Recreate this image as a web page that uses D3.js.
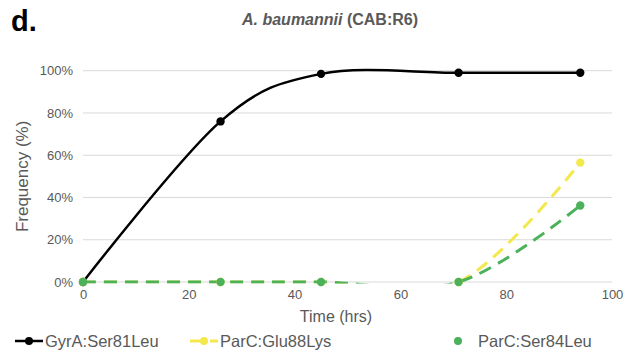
<!DOCTYPE html>
<html>
<head>
<meta charset="utf-8">
<script src="https://cdn.jsdelivr.net/npm/d3@7"></script>
<style>
  html, body { margin: 0; padding: 0; background: #fff; }
  svg { display: block; font-family: "Liberation Sans", Arial, sans-serif; }
</style>
</head>
<body>
<svg id="chart" width="624" height="353"></svg>
<script>
// Sampling times (hours) and mutation frequencies per allele
const timeHrs = [0, 26, 45, 71, 94];
const gyrASer81Leu = [0, 0.76, 0.985, 0.99, 0.99];
const parCGlu88Lys = [0, 0, 0, 0, 0.565];
const parCSer84Leu = [0, 0, 0, 0, 0.362];

const xTicks = [0, 20, 40, 60, 80, 100];
const yTicks = [0, 0.2, 0.4, 0.6, 0.8, 1.0];

const seriesNames = ["GyrA:Ser81Leu", "ParC:Glu88Lys", "ParC:Ser84Leu"];

const series = [
  { name: seriesNames[0], values: gyrASer81Leu, color: "#000000", dash: null, width: 2.5 },
  { name: seriesNames[1], values: parCGlu88Lys, color: "#F3E84C", dash: "13,8", width: 3 },
  { name: seriesNames[2], values: parCSer84Leu, color: "#4BB15A", dash: "13,8", width: 3 }
];

const svg = d3.select("#chart");
const gray = "#595959";

const x = d3.scaleLinear().domain([0, 100]).range([83, 612]);
const y = d3.scaleLinear().domain([0, 1]).range([282, 70.7]);

// panel letter
svg.append("text")
  .attr("x", 11).attr("y", 31)
  .attr("font-size", 29).attr("font-weight", "bold").attr("fill", "#000")
  .text("d.");

// chart title
const title = svg.append("text")
  .attr("x", 330).attr("y", 25)
  .attr("text-anchor", "middle")
  .attr("font-size", 16).attr("font-weight", "bold").attr("fill", gray);
title.append("tspan").attr("font-style", "italic").text("A. baumannii");
title.append("tspan").text(" (CAB:R6)");

// horizontal gridlines
svg.append("g").selectAll("line").data(yTicks).join("line")
  .attr("x1", x(0)).attr("x2", x(100))
  .attr("y1", d => y(d)).attr("y2", d => y(d))
  .attr("stroke", "#d9d9d9").attr("stroke-width", 1);

// y axis labels
const yAxis = d3.axisLeft(y).tickValues(yTicks).tickFormat(d3.format(".0%")).tickSize(0).tickPadding(10);
const yg = svg.append("g").attr("transform", `translate(${x(0)},0)`).call(yAxis);
yg.select(".domain").remove();
yg.selectAll("text").attr("font-size", 13).attr("fill", gray).attr("font-family", "Liberation Sans, Arial, sans-serif");

// x axis labels
const xAxis = d3.axisBottom(x).tickValues(xTicks).tickSize(0).tickPadding(8);
const xg = svg.append("g").attr("transform", `translate(0,${y(0)})`).call(xAxis);
xg.select(".domain").remove();
xg.selectAll("text").attr("font-size", 13).attr("fill", gray).attr("font-family", "Liberation Sans, Arial, sans-serif");

// axis titles
svg.append("text")
  .attr("transform", `translate(28,${(y(0) + y(1)) / 2}) rotate(-90)`)
  .attr("text-anchor", "middle")
  .attr("font-size", 17).attr("fill", gray)
  .text("Frequency (%)");

svg.append("text")
  .attr("x", 336).attr("y", 322)
  .attr("text-anchor", "middle")
  .attr("font-size", 16).attr("fill", gray)
  .text("Time (hrs)");

// plot clip so smoothed curves stay inside the value range
svg.append("defs").append("clipPath").attr("id", "plotClip")
  .append("rect")
  .attr("x", x(0) - 10).attr("y", y(1) - 20)
  .attr("width", x(100) - x(0) + 20).attr("height", y(0) - y(1) + 21.5);

const line = d3.line()
  .x((d, i) => x(timeHrs[i]))
  .y(d => y(d))
  .curve(d3.curveCardinal.tension(0));

const plot = svg.append("g").attr("clip-path", "url(#plotClip)");

series.forEach(s => {
  plot.append("path")
    .datum(s.values)
    .attr("d", line)
    .attr("fill", "none")
    .attr("stroke", s.color)
    .attr("stroke-width", s.width)
    .attr("stroke-dasharray", s.dash)
    .attr("stroke-linecap", "butt");
});

series.forEach(s => {
  svg.append("g").selectAll("circle").data(s.values).join("circle")
    .attr("cx", (d, i) => x(timeHrs[i]))
    .attr("cy", d => y(d))
    .attr("r", 4.2)
    .attr("fill", s.color);
});

// legend
const legendY = 341;
const legend = svg.append("g");
const legendItems = [
  { s: series[0], x0: 15, showLine: true },
  { s: series[1], x0: 190, showLine: true },
  { s: series[2], x0: 444, showLine: false }
];
legendItems.forEach(item => {
  const g = legend.append("g").attr("transform", `translate(${item.x0},${legendY})`);
  if (item.showLine) {
    g.append("line")
      .attr("x1", 0).attr("x2", 28).attr("y1", 0).attr("y2", 0)
      .attr("stroke", item.s.color).attr("stroke-width", item.s.width)
      .attr("stroke-dasharray", item.s.dash ? "15,5,8" : null);
  }
  g.append("circle").attr("cx", 14).attr("cy", 0).attr("r", 4).attr("fill", item.s.color);
  g.append("text")
    .attr("x", item.showLine ? 30 : 34).attr("y", 6)
    .attr("font-size", 16.5).attr("fill", gray)
    .text(item.s.name);
});
</script>
</body>
</html>
